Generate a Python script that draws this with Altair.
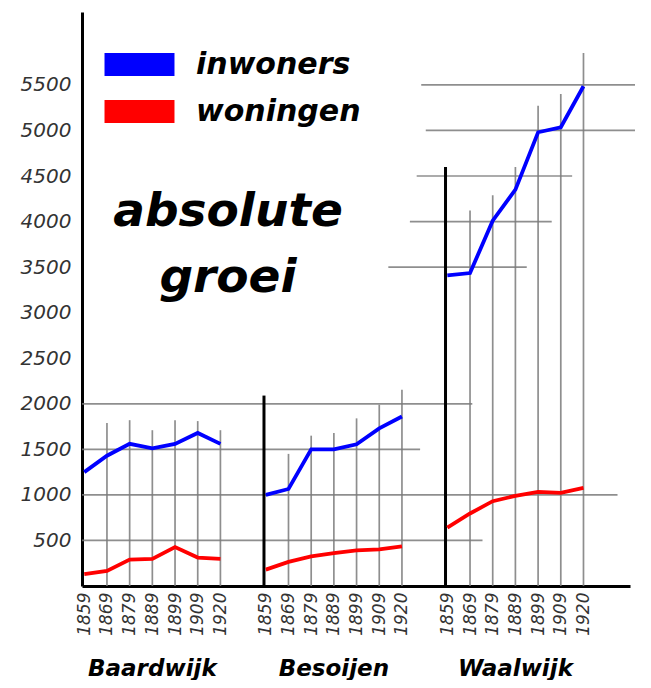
import altair as alt
import pandas as pd

# ---- data ----
GROUPS = ["Baardwijk", "Besoijen", "Waalwijk"]
YEARS = ["1859", "1869", "1879", "1889", "1899", "1909", "1920"]
SERIES = ["inwoners", "woningen"]
COLORS = ["#0000ff", "#ff0000"]

INWONERS = {
    "Baardwijk": [1250, 1430, 1560, 1510, 1560, 1680, 1560],
    "Besoijen": [1000, 1065, 1500, 1500, 1555, 1730, 1860],
    "Waalwijk": [3410, 3435, 4010, 4350, 4980, 5035, 5485],
}
WONINGEN = {
    "Baardwijk": [130, 165, 290, 297, 427, 312, 297],
    "Besoijen": [180, 264, 326, 362, 390, 402, 435],
    "Waalwijk": [640, 796, 931, 990, 1034, 1023, 1078],
}
# top of each drawn vertical grid line (value units); the first year of
# Besoijen and Waalwijk is a thick black group axis instead
VTOPS = {
    "Baardwijk": [0, 1790, 1820, 1710, 1820, 1810, 1710],
    "Besoijen": [2090, 1450, 1650, 1680, 1840, 1990, 2155],
    "Waalwijk": [4600, 4120, 4290, 4600, 5270, 5400, 5850],
}
# horizontal hand-drawn grid segments: value, start, end (in slot units)
HGRID_VALUE = [500, 1000, 1500, 2000, 3500, 4000, 4500, 5000, 5500]
HGRID_FROM = [-0.1, -0.1, -0.1, -0.1, 13.4, 14.35, 14.65, 15.05, 14.85]
HGRID_TO = [17.55, 23.5, 14.8, 17.1, 19.5, 20.6, 21.5, 24.7, 24.7]
YTICKS = [500, 1000, 1500, 2000, 2500, 3000, 3500, 4000, 4500, 5000, 5500]

SLOTS_PER_GROUP = 8
FONT = "DejaVu Sans"

rows, vrows, arows = [], [], []
for gi, g in enumerate(GROUPS):
    for yi, yr in enumerate(YEARS):
        pos = gi * SLOTS_PER_GROUP + yi
        rows.append({"group": g, "year": yr, "pos": pos, "serie": "inwoners", "value": INWONERS[g][yi]})
        rows.append({"group": g, "year": yr, "pos": pos, "serie": "woningen", "value": WONINGEN[g][yi]})
        if yi == 0:
            if gi > 0:
                arows.append({"group": g, "pos": pos - 0.08, "top": VTOPS[g][yi]})
        else:
            vrows.append({"group": g, "pos": pos, "top": VTOPS[g][yi]})
df = pd.DataFrame(rows)
dv = pd.DataFrame(vrows)
da = pd.DataFrame(arows)
dh = pd.DataFrame({"value": HGRID_VALUE, "x1": HGRID_FROM, "x2": HGRID_TO})
dg = pd.DataFrame({
    "group": GROUPS,
    "center": [gi * SLOTS_PER_GROUP + (len(YEARS) - 1) / 2 for gi in range(len(GROUPS))],
})

xpos = [gi * SLOTS_PER_GROUP + yi for gi in range(len(GROUPS)) for yi in range(len(YEARS))]
year_arr = "[" + ",".join("'%s'" % y for y in YEARS) + "]"

xscale = alt.Scale(domain=[-0.1, 24.05], nice=False, zero=False)
yscale = alt.Scale(domain=[0, 6300], nice=False)

xaxis = alt.Axis(
    values=xpos, labelExpr=year_arr + "[datum.value % " + str(SLOTS_PER_GROUP) + "]",
    labelAngle=270, labelFont=FONT, labelFontStyle="italic", labelFontSize=17,
    labelColor="#333333", labelPadding=6, labelOverlap=False, labelFlush=False,
    labelBound=False, ticks=False, grid=False, domain=True, domainColor="black",
    domainWidth=3, title=None,
)
yaxis = alt.Axis(
    values=YTICKS, format="d", labelFont=FONT, labelFontStyle="italic", labelFontSize=20,
    labelColor="#333333", labelPadding=11, labelOverlap=False, ticks=False, grid=False,
    domain=True, domainColor="black", domainWidth=3, title=None,
)

hgrid = alt.Chart(dh).mark_rule(color="#7a7a7a", strokeWidth=1.7, opacity=0.85).encode(
    x=alt.X("x1:Q", scale=xscale, axis=xaxis),
    x2="x2:Q",
    y=alt.Y("value:Q", scale=yscale, axis=yaxis),
)
vgrid = alt.Chart(dv).mark_rule(color="#7a7a7a", strokeWidth=1.7, opacity=0.85).encode(
    x=alt.X("pos:Q", scale=xscale, axis=xaxis),
    y=alt.Y("top:Q", scale=yscale, axis=yaxis),
    y2=alt.datum(0),
)
gaxes = alt.Chart(da).mark_rule(color="black", strokeWidth=3).encode(
    x=alt.X("pos:Q", scale=xscale, axis=xaxis),
    y=alt.Y("top:Q", scale=yscale, axis=yaxis),
    y2=alt.datum(0),
)


def series_layer(i):
    name = SERIES[i]
    return alt.Chart(df).transform_filter(alt.datum.serie == name).mark_line(strokeWidth=3.8).encode(
        x=alt.X("pos:Q", scale=xscale, axis=xaxis),
        y=alt.Y("value:Q", scale=yscale, axis=yaxis),
        color=alt.Color(
            "serie:N",
            scale=alt.Scale(domain=[name], range=[COLORS[i]]),
            legend=alt.Legend(
                title=None, orient="none", legendX=37, legendY=32 + 47 * i,
                symbolType="M-4,0L4,0", symbolSize=306, symbolStrokeWidth=23,
                labelFont=FONT, labelFontSize=30, labelFontStyle="italic",
                labelFontWeight="bold", labelColor="black", labelOffset=36,
                labelLimit=400, padding=0,
            ),
        ),
        detail="group:N",
    )


glabels = alt.Chart(dg).mark_text(
    font=FONT, fontSize=23, fontStyle="italic", fontWeight="bold",
    color="black", baseline="alphabetic", dy=90,
).encode(
    x=alt.X("center:Q", scale=xscale, axis=xaxis),
    y=alt.datum(0),
    text="group:N",
)

chart = alt.layer(
    hgrid, vgrid, gaxes, series_layer(0), series_layer(1), glabels
).resolve_scale(color="independent").properties(
    width=548, height=574,
    autosize=alt.AutoSizeParams(type="none"),
    padding={"left": 74, "top": 4, "right": 5, "bottom": 94},
    title=alt.TitleParams(
        text=["absolute", "groei"], font=FONT, fontSize=47, fontStyle="italic",
        fontWeight="bold", color="black", anchor="start", align="center",
        frame="group", orient="top", baseline="top", offset=0, dx=146, dy=290,
        lineHeight=66,
    ),
).configure_view(stroke=None)

chart.save("out.html", embed_options={"renderer": "svg", "actions": False})
